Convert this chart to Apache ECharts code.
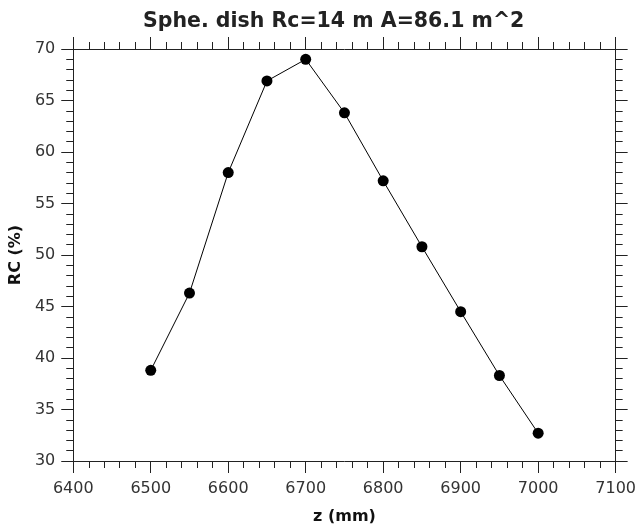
<!DOCTYPE html>
<html>
<head>
<meta charset="utf-8">
<script src="https://cdn.jsdelivr.net/npm/echarts@6/dist/echarts.min.js"></script>
<style>
  html, body { margin: 0; padding: 0; background: #fff; }
  #chart { width: 639px; height: 531px; }
</style>
</head>
<body>
<div id="chart"></div>
<script>
// Relative change measurements versus axial position z
const zValues = [6500, 6550, 6600, 6650, 6700, 6750, 6800, 6850, 6900, 6950, 7000];
const rcValues = [38.8, 46.3, 58.0, 66.9, 69.0, 63.8, 57.2, 50.8, 44.5, 38.3, 32.7];

const titleText = 'Sphe. dish Rc=14 m A=86.1 m^2';
const xName = 'z (mm)';
const yName = 'RC (%)';

const FONT = 'DejaVu Sans';
const AXIS_COLOR = '#222';
const TEXT_COLOR = '#333';

const xRange = { min: 6400, max: 7100, interval: 100 };
const yRange = { min: 30, max: 70, interval: 5 };

function frameAxis(range, position, show) {
  return {
    type: 'value',
    position: position,
    min: range.min,
    max: range.max,
    interval: range.interval,
    axisLine: { show: true, onZero: false, lineStyle: { color: AXIS_COLOR, width: 1 } },
    axisTick: { show: true, inside: false, length: 12, lineStyle: { color: AXIS_COLOR, width: 1 } },
    minorTick: { show: true, splitNumber: 5, length: 7, lineStyle: { color: AXIS_COLOR, width: 1 } },
    splitLine: { show: false },
    axisLabel: { show: show }
  };
}

const chart = echarts.init(document.getElementById('chart'), null, { renderer: 'canvas' });

const xBottom = Object.assign(frameAxis(xRange, 'bottom', true), {
  name: xName,
  nameLocation: 'middle',
  nameGap: 48,
  nameTextStyle: { fontFamily: FONT, fontWeight: 'bold', fontSize: 16, color: '#111' },
  axisLabel: {
    show: true, margin: 20, fontFamily: FONT, fontSize: 16, color: TEXT_COLOR,
    formatter: v => String(v)
  }
});
const xTop = frameAxis(xRange, 'top', false);

const yLeft = Object.assign(frameAxis(yRange, 'left', true), {
  name: yName,
  nameLocation: 'middle',
  nameGap: 47,
  nameTextStyle: { fontFamily: FONT, fontWeight: 'bold', fontSize: 16, color: '#111' },
  axisLabel: {
    show: true, margin: 18, fontFamily: FONT, fontSize: 16, color: TEXT_COLOR,
    formatter: v => String(v)
  }
});
const yRight = frameAxis(yRange, 'right', false);

chart.setOption({
  animation: false,
  backgroundColor: '#fff',
  title: {
    text: titleText,
    left: 138,
    top: 6,
    textStyle: { fontFamily: FONT, fontWeight: 'bold', fontSize: 20.5, color: '#222' }
  },
  grid: { left: 73, right: 22, top: 49, bottom: 70, containLabel: false },
  xAxis: [xBottom, xTop],
  yAxis: [yLeft, yRight],
  series: [{
    type: 'line',
    xAxisIndex: 0,
    yAxisIndex: 0,
    data: zValues.map((z, i) => [z, rcValues[i]]),
    symbol: 'circle',
    symbolSize: 11,
    itemStyle: { color: '#000' },
    lineStyle: { color: '#000', width: 1 }
  }]
});
</script>
</body>
</html>
